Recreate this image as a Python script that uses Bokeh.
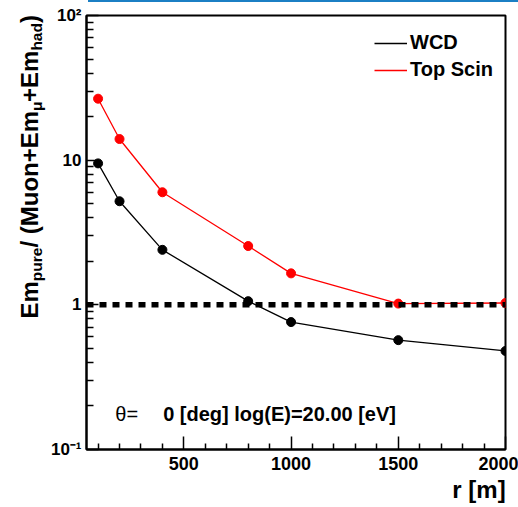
import math

from bokeh.core.properties import value
from bokeh.embed import file_html
from bokeh.layouts import column, row
from bokeh.models import (ColumnDataSource, CustomJSTickFormatter, Div, FixedTicker,
                          Label, Legend, LegendItem, LinearAxis, Range1d, Span)
from bokeh.plotting import figure
from bokeh.resources import INLINE

# ---- data -------------------------------------------------------------
r_m = [100, 200, 400, 800, 1000, 1500, 2000]
wcd_ratio = [9.5, 5.2, 2.4, 1.06, 0.76, 0.57, 0.48]
scin_ratio = [26.6, 14.0, 6.0, 2.55, 1.65, 1.02, 1.03]
reference_level = 1.0

x_major = [500, 1000, 1500, 2000]
x_minor = [v for v in range(100, 2000, 100) if v % 500]
y_major = [0.1, 1, 10, 100]
y_minor = [m * 10.0 ** k for k in (-1, 0, 1) for m in range(2, 10)]

annotation_theta = "\u03b8="
annotation_energy = "0 [deg] log(E)=20.00 [eV]"
x_title = "r [m]"
# y title: (text, is_subscript)
y_title_pieces = [("Em", False), ("pure", True), ("/ (Muon+Em", False), ("\u03bc", True),
                  ("+Em", False), ("had", True), (")", False)]

FONT = "Liberation Sans"

# ---- page geometry (pixels on the page) --------------------------------
PAGE_W = 518
BAR_H = 2
FIG_H = 505
TITLE_W = 47
F_LEFT, F_RIGHT = 84, 505
F_TOP, F_BOTTOM = 15, 449
X0, X1 = 46, 2000
Y0, Y1 = 0.1, 100
B_TOP = F_TOP - BAR_H
B_BOTTOM = BAR_H + FIG_H - F_BOTTOM


def px_x(px):
    return X0 + (px - F_LEFT) / (F_RIGHT - F_LEFT) * (X1 - X0)


def px_y(py):
    dec = math.log10(Y1) - math.log10(Y0)
    return 10 ** (math.log10(Y0) + (F_BOTTOM - py) / (F_BOTTOM - F_TOP) * dec)


p = figure(width=PAGE_W - TITLE_W, height=FIG_H, y_axis_type="log",
           x_range=Range1d(X0, X1), y_range=Range1d(Y0, Y1),
           output_backend="svg", toolbar_location=None,
           min_border_left=F_LEFT - TITLE_W, min_border_right=PAGE_W - F_RIGHT,
           min_border_top=B_TOP, min_border_bottom=B_BOTTOM)
p.grid.visible = False
p.background_fill_color = "white"
p.border_fill_color = "white"
p.outline_line_color = "black"
p.outline_line_width = 2

# axes, ROOT style with inward ticks
for ax in (p.xaxis[0], p.yaxis[0]):
    ax.axis_line_width = 2
    ax.axis_line_color = "black"
    ax.major_tick_out = 0
    ax.minor_tick_out = 0
    ax.major_tick_line_width = 1.5
    ax.minor_tick_line_width = 1.5
    ax.major_label_text_font = FONT
    ax.major_label_text_font_style = "bold"
    ax.major_label_text_color = "black"

p.xaxis.ticker = FixedTicker(ticks=x_major, minor_ticks=x_minor)
p.xaxis.major_tick_in = 13
p.xaxis.minor_tick_in = 6
p.xaxis.major_label_standoff = 7
p.xaxis.major_label_text_font_size = "18px"

p.yaxis.ticker = FixedTicker(ticks=y_major, minor_ticks=y_minor)
p.yaxis.major_tick_in = 12
p.yaxis.minor_tick_in = 7
p.yaxis.major_label_standoff = 5
p.yaxis.major_label_text_font_size = "17px"
p.yaxis.formatter = CustomJSTickFormatter(code="""
    if (tick > 50) return "10\u00b2";
    if (tick < 0.5) return "10\u207b\u00b9";
    return tick.toFixed(0);
""")

ARIAL_BOLD = {"E": 667, "m": 889, "p": 611, "u": 611, "r": 389, "e": 556, "/": 278,
              " ": 278, "(": 333, "M": 833, "o": 611, "n": 611, "+": 584,
              "\u03bc": 576, "h": 611, "a": 556, "d": 611, ")": 333, "[": 333, "]": 333}


def text_width(txt, size):
    return sum(ARIAL_BOLD.get(c, 600) for c in txt) * size / 1000.0


# x title, right aligned under the frame, carried by a label-only axis
p.extra_x_ranges = {"ttl_x": Range1d(start=F_LEFT, end=F_RIGHT)}
xt_centre = round(F_RIGHT - text_width(x_title, 24) / 2, 2)
p.add_layout(LinearAxis(
    x_range_name="ttl_x", ticker=FixedTicker(ticks=[xt_centre], minor_ticks=[]),
    formatter=CustomJSTickFormatter(args=dict(label=x_title), code="return label;"),
    axis_line_color=None, major_tick_line_color=None, minor_tick_line_color=None,
    major_tick_in=0, major_tick_out=0, minor_tick_in=0, minor_tick_out=0,
    major_label_standoff=3, major_label_text_font=FONT,
    major_label_text_font_style="bold", major_label_text_font_size="24px",
    major_label_text_color="black"), "below")

# ---- series -----------------------------------------------------------
src_w = ColumnDataSource(dict(x=r_m, y=wcd_ratio))
src_s = ColumnDataSource(dict(x=r_m, y=scin_ratio))

ln_w = p.line("x", "y", source=src_w, color="black", line_width=1.3)
p.scatter("x", "y", source=src_w, size=9, color="black")
ln_s = p.line("x", "y", source=src_s, color="red", line_width=1.3)
p.scatter("x", "y", source=src_s, size=9, color="red")

p.add_layout(Span(location=reference_level, dimension="width", line_color="black",
                  line_width=5.5, line_dash="7 6"))

# ---- legend -----------------------------------------------------------
legend = Legend(items=[LegendItem(label="WCD", renderers=[ln_w]),
                       LegendItem(label="Top Scin", renderers=[ln_s])],
                location=(288, 368), orientation="vertical",
                glyph_width=33, glyph_height=20, label_height=20,
                label_standoff=3, spacing=4, padding=0, margin=0,
                border_line_alpha=0, background_fill_alpha=0,
                label_text_font=FONT, label_text_font_style="bold",
                label_text_font_size="20px", label_text_color="black")
p.add_layout(legend)

# ---- text annotation inside the frame ----------------------------------
p.add_layout(Label(x=px_x(113), y=px_y(413), text=annotation_theta,
                   text_font=FONT, text_font_size="20px", text_color="black",
                   text_align="left", text_baseline="alphabetic"))
p.add_layout(Label(x=px_x(161), y=px_y(413), text=annotation_energy,
                   text_font=FONT, text_font_style="bold", text_font_size="20px",
                   text_color="black", text_align="left", text_baseline="alphabetic"))

# ---- y title: a narrow strip left of the plot, sharing its vertical borders
# strip frame spans page y F_TOP..F_BOTTOM; strip y value = F_BOTTOM - page y
MAIN, SUB = 24, 15.5
MAIN_BASE_X, SUB_BASE_X = 29, 36
strip = figure(width=TITLE_W, height=FIG_H, x_range=Range1d(0, TITLE_W),
               y_range=Range1d(0, F_BOTTOM - F_TOP), output_backend="svg",
               toolbar_location=None, x_axis_location=None, y_axis_location=None,
               min_border_left=0, min_border_right=0,
               min_border_top=B_TOP, min_border_bottom=B_BOTTOM)
strip.grid.visible = False
strip.outline_line_color = None
strip.background_fill_color = "white"
strip.border_fill_color = "white"

pieces = {False: dict(x=[], y=[], text=[]), True: dict(x=[], y=[], text=[])}
pos = 318.0  # page y where the title starts (reading upwards)
for txt, is_sub in y_title_pieces:
    size = SUB if is_sub else MAIN
    d = pieces[is_sub]
    d["x"].append(SUB_BASE_X if is_sub else MAIN_BASE_X)
    d["y"].append(F_BOTTOM - pos)
    d["text"].append(txt)
    pos -= text_width(txt, size)

for is_sub, size in ((False, MAIN), (True, SUB)):
    strip.text("x", "y", text="text", source=ColumnDataSource(pieces[is_sub]),
               angle=math.pi / 2, text_font=value(FONT), text_font_style="bold",
               text_font_size=f"{size}px", text_color="black",
               text_align="left", text_baseline="alphabetic")

# thin blue rule along the top of the page
bar = Div(text="", width=PAGE_W - 88, height=BAR_H, margin=(0, 0, 0, 88),
          styles={"background-color": "#1b7fc4"})

layout = column(bar, row(strip, p, spacing=0), spacing=0)
open("out.html", "w").write(file_html(layout, INLINE))
